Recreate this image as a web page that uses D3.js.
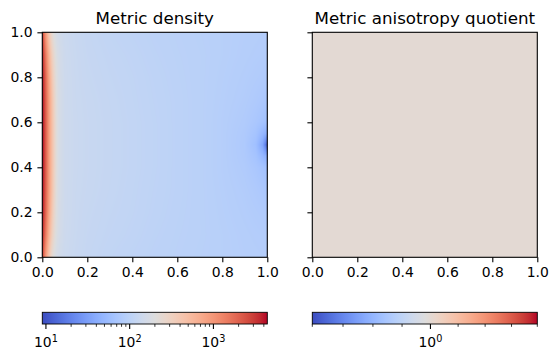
<!DOCTYPE html>
<html><head><meta charset="utf-8">
<script src="https://cdn.jsdelivr.net/npm/d3@7"></script>
<style>body{margin:0;background:#fff} text{font-family:"DejaVu Sans",sans-serif;fill:#000}</style>
</head><body><svg id="c" width="558" height="362"></svg>
<script>
// ---------------- data ----------------
const titles = ["Metric density", "Metric anisotropy quotient"];
const xGrid = [0,0.005,0.01,0.02,0.03,0.04,0.05,0.06,0.07,0.08,0.1,0.15,0.2,0.3,0.4,0.5,0.6,0.7,0.8,0.9,0.95,0.98,1.0];
const yGrid = [0,0.1,0.2,0.3,0.4,0.45,0.5,0.55,0.6,0.7,0.8,0.9,1.0];
const densityRowA = [3000,2200,1300,700,400,260,200,170,155,145,135,125,118,110,105,100,97,94,91,88,87,86,85];
const densityRowB = [3600,3000,2000,1100,620,380,260,200,170,155,138,127,120,113,108,102,98,95,91,87,85,84,83];
const densityRowC = [4000,3500,2500,1400,780,470,300,215,175,158,140,128,122,115,110,104,99,95,90,85,82,80,78];
const densityRowD = [4200,3700,2700,1550,870,530,335,225,178,160,140,129,124,117,111,105,100,95,89,83,78,74,70];
const densityRowE = [4300,3800,2800,1600,900,550,350,230,180,160,140,130,125,118,112,106,100,95,88,80,72,65,60];
const densityRowF = [4350,3850,2800,1600,900,550,350,230,180,160,140,130,125,118,112,106,100,95,88,78,66,50,40];
const densityRowG = [4400,3850,2800,1600,900,550,350,230,180,160,140,130,125,118,112,106,100,95,88,77,60,35,12];
// rows ordered by yGrid (bottom to top)
const density = [densityRowA,densityRowB,densityRowC,densityRowD,densityRowE,densityRowF,densityRowG,
                 densityRowF,densityRowE,densityRowD,densityRowC,densityRowB,densityRowA];
const anisoXGrid = [0, 1];
const anisoYGrid = [0, 1];
const anisotropy = [[1, 1], [1, 1]];
const axisTicks = [0, 0.2, 0.4, 0.6, 0.8, 1.0];
const densityLimits = [9.05, 4400];
const anisoLimits = [0.9, 1.1];
const densityMajorTicks = [10, 100, 1000];
const densityMajorLabels = [["10","1"],["10","2"],["10","3"]];
const densityMinorTicks = [20,30,40,50,60,70,80,90,200,300,400,500,600,700,800,900,2000,3000,4000];
const anisoMajorTicks = [1];
const anisoMajorLabels = [["10","0"]];
const anisoMinorTicks = [0.9,0.925,0.95,0.975,1.025,1.05,1.075,1.1];

// coolwarm colormap (matplotlib)
const cwStops = [[59,76,192],[68,90,204],[77,104,215],[87,117,225],[98,130,234],[108,142,241],[119,154,247],[130,165,251],
 [141,176,254],[152,185,255],[163,194,255],[174,201,253],[184,208,249],[194,213,244],[204,217,238],[213,219,230],
 [221,221,221],[229,216,209],[236,211,197],[241,204,185],[245,196,173],[247,187,160],[247,177,148],[247,166,135],
 [244,154,123],[241,141,111],[236,127,99],[229,112,88],[222,96,77],[213,80,66],[203,62,56],[192,40,47],[180,4,38]];
const coolwarm = d3.scaleLinear()
  .domain(cwStops.map((d,i)=>i/(cwStops.length-1)))
  .range(cwStops.map(c=>`rgb(${c[0]},${c[1]},${c[2]})`))
  .interpolate(d3.interpolateRgb).clamp(true);

// ---------------- layout ----------------
const svg = d3.select("#c");
const size = 225;
const plotTop = 32.3;
const panels = [
  {left: 42.3, xg: xGrid, yg: yGrid, z: density, lim: densityLimits, ylabels: true,
   maj: densityMajorTicks, majLab: densityMajorLabels, minr: densityMinorTicks},
  {left: 312.3, xg: anisoXGrid, yg: anisoYGrid, z: anisotropy, lim: anisoLimits, ylabels: false,
   maj: anisoMajorTicks, majLab: anisoMajorLabels, minr: anisoMinorTicks}
];
const fs = 13.9;
const tickLen = 4.9, tickW = 1.1;

function interp(xg, yg, z, x, y) {
  let i = Math.min(Math.max(d3.bisectRight(xg, x) - 1, 0), xg.length - 2);
  let j = Math.min(Math.max(d3.bisectRight(yg, y) - 1, 0), yg.length - 2);
  const tx = (x - xg[i]) / (xg[i+1] - xg[i]);
  const ty = (y - yg[j]) / (yg[j+1] - yg[j]);
  const l = v => Math.log10(v);
  const a = l(z[j][i]) * (1-tx) + l(z[j][i+1]) * tx;
  const b = l(z[j+1][i]) * (1-tx) + l(z[j+1][i+1]) * tx;
  return Math.pow(10, a * (1-ty) + b * ty);
}

panels.forEach((p, k) => {
  const x = d3.scaleLinear().domain([0,1]).range([p.left, p.left + size]);
  const y = d3.scaleLinear().domain([0,1]).range([plotTop + size, plotTop]);
  const norm = d3.scaleLog().domain(p.lim).range([0,1]).clamp(true);

  // heatmap
  const W = size, H = size;
  const cv = document.createElement("canvas");
  cv.width = W; cv.height = H;
  const ctx = cv.getContext("2d");
  const img = ctx.createImageData(W, H);
  for (let j = 0; j < H; j++) {
    for (let i = 0; i < W; i++) {
      const xv = x.invert(p.left + i + 0.5);
      const yv = y.invert(plotTop + j + 0.5);
      const v = interp(p.xg, p.yg, p.z, xv, yv);
      const c = d3.rgb(coolwarm(norm(v)));
      const o = (j * W + i) * 4;
      img.data[o] = c.r; img.data[o+1] = c.g; img.data[o+2] = c.b; img.data[o+3] = 255;
    }
  }
  ctx.putImageData(img, 0, 0);
  svg.append("image").attr("x", p.left).attr("y", plotTop).attr("width", size).attr("height", size)
    .attr("preserveAspectRatio", "none").attr("href", cv.toDataURL());

  // axes
  const gx = svg.append("g").attr("transform", `translate(0,${plotTop + size})`)
    .call(d3.axisBottom(x).tickValues(axisTicks).tickFormat(d3.format(".1f")).tickSize(tickLen).tickPadding(4.9));
  const gy = svg.append("g").attr("transform", `translate(${p.left},0)`)
    .call(d3.axisLeft(y).tickValues(axisTicks).tickFormat(p.ylabels ? d3.format(".1f") : () => "").tickSize(tickLen).tickPadding(4.9));
  [gx, gy].forEach(g => {
    g.select(".domain").remove();
    g.selectAll("line").attr("stroke", "#000").attr("stroke-width", tickW);
    g.selectAll("text").attr("font-size", fs).attr("font-family", "DejaVu Sans").attr("fill", "#000");
  });
  svg.append("rect").attr("x", p.left).attr("y", plotTop).attr("width", size).attr("height", size)
    .attr("fill", "none").attr("stroke", "#000").attr("stroke-width", tickW);

  // title
  svg.append("text").attr("x", p.left + size/2).attr("y", plotTop - 8.5)
    .attr("text-anchor", "middle").attr("font-size", 16.7).text(titles[k]);

  // colorbar
  const cbTop = 312.3, cbH = 11.7;
  const gradId = "grad" + k;
  const grad = svg.append("defs").append("linearGradient").attr("id", gradId)
    .attr("x1", "0%").attr("x2", "100%").attr("y1", "0%").attr("y2", "0%");
  d3.range(0, 65).forEach(s => {
    const t = s / 64;
    grad.append("stop").attr("offset", (t*100) + "%").attr("stop-color", coolwarm(t));
  });
  svg.append("rect").attr("x", p.left).attr("y", cbTop).attr("width", size).attr("height", cbH)
    .attr("fill", `url(#${gradId})`).attr("stroke", "#000").attr("stroke-width", 0.9);
  const cx = d3.scaleLog().domain(p.lim).range([p.left, p.left + size]);
  const cbBot = cbTop + cbH;
  svg.append("g").selectAll("line").data(p.minr).join("line")
    .attr("x1", d => cx(d)).attr("x2", d => cx(d)).attr("y1", cbBot).attr("y2", cbBot + 2.8)
    .attr("stroke", "#000").attr("stroke-width", 0.8);
  svg.append("g").selectAll("line").data(p.maj).join("line")
    .attr("x1", d => cx(d)).attr("x2", d => cx(d)).attr("y1", cbBot).attr("y2", cbBot + tickLen)
    .attr("stroke", "#000").attr("stroke-width", tickW);
  const lab = svg.append("g").selectAll("text").data(p.maj).join("text")
    .attr("x", d => cx(d)).attr("y", 347.2).attr("text-anchor", "middle").attr("font-size", fs);
  lab.append("tspan").text((d,i) => p.majLab[i][0]);
  lab.append("tspan").attr("dy", -4.8).attr("font-size", fs * 0.7).text((d,i) => p.majLab[i][1]);
});
</script></body></html>
